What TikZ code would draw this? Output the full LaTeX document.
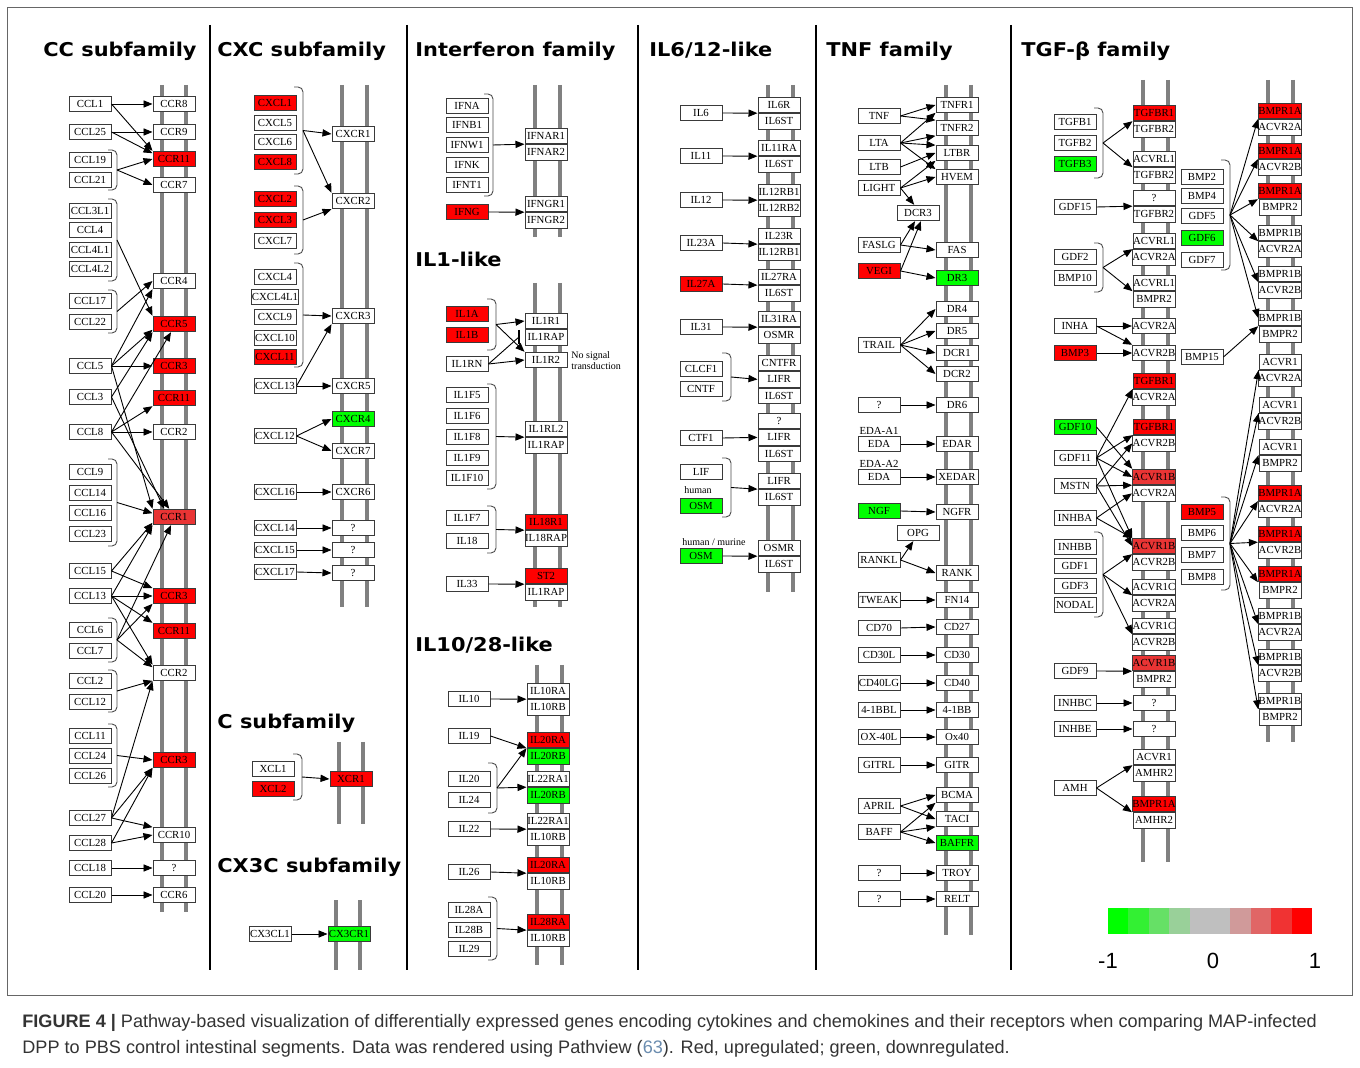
\documentclass[tikz,border=0pt]{standalone}
\usepackage{fontspec}
\setmainfont{Liberation Serif}
\newfontfamily\ttlfont{DejaVu Sans}[FakeStretch=1.1]
\newfontfamily\capfont{Liberation Sans}
\usetikzlibrary{arrows.meta,positioning}
\definecolor{upred}{HTML}{FF0000}
\definecolor{uplight}{HTML}{E93434}
\definecolor{dngreen}{HTML}{00FF00}
\definecolor{railgrey}{HTML}{808080}
\definecolor{boxline}{HTML}{3A3A3A}
\definecolor{capgrey}{HTML}{333333}
\definecolor{refblue}{HTML}{6A8CAF}
\tikzset{
  >={Triangle[length=4.5pt,width=3.6pt]},
  gene/.style={draw=boxline,line width=0.5pt,fill=white,minimum width=21pt,
               minimum height=7.7pt,inner sep=0pt,font=\fontsize{5.4}{6}\selectfont},
  rail/.style={draw=railgrey,line width=1.6pt},
  flow/.style={->,line width=0.45pt},
  brack/.style={draw=black!70,line width=0.45pt,rounded corners=2.5pt},
  family/.style={anchor=base west,inner sep=0pt,font=\ttlfont\bfseries\fontsize{9.5}{11}\selectfont},
  divider/.style={line width=0.7pt},
  tinytext/.style={inner sep=0pt,font=\fontsize{5}{5.6}\selectfont},
  caption/.style={anchor=base west,inner sep=0pt,text=capgrey,font=\capfont\fontsize{9.05}{10}\selectfont},
  scale label/.style={inner sep=0pt,font=\capfont\fontsize{11}{12}\selectfont},
}
% bracket round a group of ligands, with a named point for its arrows
\newcommand{\bracegroup}[4]{%
  \draw[brack] (#2-9,#3) -- (#2,#3) -- (#2,#4) -- (#2-9,#4);
  \coordinate (#1) at (#2,{(#3+#4)/2});}

\begin{document}
\begin{tikzpicture}[x=0.5pt,y=-0.5pt]
  \useasboundingbox (0,0) rectangle (1360,1068);
  \fill[white] (0,0) rectangle (1360,1068);
  \draw[black!60,line width=0.5pt] (7,8) rectangle (1352,995);
  \foreach \x in {210,407,638,816,1011} \draw[divider] (\x,25) -- (\x,970);

  % membranes
  \foreach \x/\a/\b in {162/85/912, 186/85/912, 342/85/607, 367/85/607,
      339/742/824, 363/742/824, 336/900/970, 360/900/970,
      535/85/237, 560/85/237, 535/283/607, 560/283/607, 537/665/965, 562/665/965,
      768/85/592, 793/85/592, 946/85/935, 971/85/935,
      1143/80/862, 1168/80/862, 1268/80/742, 1293/80/742}
    \draw[rail] (\x,\a) -- (\x,\b);

  % family titles
  \node[family] (ttlcc) at (43,57) {CC subfamily};
  \node[family] (ttlcxc) at (217,57) {CXC subfamily};
  \node[family] (ttlifn) at (415,57) {Interferon family};
  \node[family] (ttlil6) at (649,57) {IL6/12-like};
  \node[family] (ttltnf) at (826,57) {TNF family};
  \node[family] (ttltgf) at (1021,57) {TGF-β family};
  \node[family] (ttlil1) at (415,267) {IL1-like};
  \node[family] (ttlil10) at (415,652) {IL10/28-like};
  \node[family] (ttlc) at (217,729) {C subfamily};
  \node[family] (ttlcx3c) at (217,872) {CX3C subfamily};

  % ---- CC subfamily
  \foreach \n/\y/\t in {ccl1/104/CCL1, ccl25/132/CCL25, ccl19/160/CCL19, ccl21/180/CCL21,
      ccl3l1/211/CCL3L1, ccl4/230/CCL4, ccl4l1/250/CCL4L1, ccl4l2/269/CCL4L2,
      ccl17/301/CCL17, ccl22/322/CCL22, ccl5/366/CCL5, ccl3/397/CCL3, ccl8/432/CCL8,
      ccl9/472/CCL9, ccl14/493/CCL14, ccl16/513/CCL16, ccl23/534/CCL23, ccl15/571/CCL15,
      ccl13/596/CCL13, ccl6/630/CCL6, ccl7/651/CCL7, ccl2/681/CCL2, ccl12/702/CCL12,
      ccl11/736/CCL11, ccl24/756/CCL24, ccl26/776/CCL26, ccl27/818/CCL27,
      ccl28/843/CCL28, ccl18/868/CCL18, ccl20/895/CCL20}
    \node[gene] (\n) at (90,\y) {\t};
  \foreach \n/\y/\t/\c in {ccr8/104/CCR8/white, ccr9/132/CCR9/white, ccr11a/159/CCR11/upred,
      ccr7/185/CCR7/white, ccr4/281/CCR4/white, ccr5/324/CCR5/upred, ccr3a/366/CCR3/upred,
      ccr11b/398/CCR11/upred, ccr2a/432/CCR2/white, ccr1/517/CCR1/uplight,
      ccr3b/596/CCR3/upred, ccr11c/631/CCR11/upred, ccr2b/673/CCR2/white,
      ccr3c/760/CCR3/upred, ccr10/835/CCR10/white, ccrq/868/?/white, ccr6/895/CCR6/white}
    \node[gene,fill=\c] (\n) at (174,\y) {\t};
  \bracegroup{ccb1}{117}{150}{190}
  \bracegroup{ccb2}{117}{199}{281}
  \bracegroup{ccb3}{117}{290}{333}
  \bracegroup{ccb4}{117}{459}{546}
  \bracegroup{ccb5}{117}{618}{662}
  \bracegroup{ccb6}{117}{670}{712}
  \bracegroup{ccb7}{117}{724}{787}

  % ---- CXC subfamily
  \foreach \n/\y/\t/\c in {cxcl1/103/CXCL1/upred, cxcl5/123/CXCL5/white, cxcl6/142/CXCL6/white,
      cxcl8/162/CXCL8/upred, cxcl2/199/CXCL2/upred, cxcl3/220/CXCL3/upred, cxcl7/241/CXCL7/white,
      cxcl4/277/CXCL4/white, cxcl4l1/297/CXCL4L1/white, cxcl9/317/CXCL9/white,
      cxcl10/338/CXCL10/white, cxcl11/357/CXCL11/upred, cxcl13/386/CXCL13/white,
      cxcl12/436/CXCL12/white, cxcl16/492/CXCL16/white, cxcl14/528/CXCL14/white,
      cxcl15/550/CXCL15/white, cxcl17/572/CXCL17/white}
    \node[gene,fill=\c] (\n) at (275,\y) {\t};
  \foreach \n/\y/\t/\c in {cxcr1/134/CXCR1/white, cxcr2/201/CXCR2/white, cxcr3/316/CXCR3/white,
      cxcr5/386/CXCR5/white, cxcr4/419/CXCR4/dngreen, cxcr7/451/CXCR7/white,
      cxcr6/492/CXCR6/white, cxrq1/528/?/white, cxrq2/550/?/white, cxrq3/573/?/white}
    \node[gene,fill=\c] (\n) at (353,\y) {\t};
  \bracegroup{cxb1}{303}{87}{174}
  \bracegroup{cxb2}{303}{186}{254}
  \bracegroup{cxb3}{303}{263}{367}

  % ---- C and CX3C subfamilies
  \node[gene] (xcl1) at (273,769) {XCL1};
  \node[gene,fill=upred] (xcl2) at (273,789) {XCL2};
  \node[gene,fill=upred] (xcr1) at (351,779) {XCR1};
  \bracegroup{xcb}{302}{754}{800}
  \node[gene] (cx3cl1) at (270,934) {CX3CL1};
  \node[gene,fill=dngreen] (cx3cr1) at (349,934) {CX3CR1};

  % ---- Interferon family and IL1-like
  \foreach \n/\y/\t/\c in {ifna/106/IFNA/white, ifnb1/125/IFNB1/white, ifnw1/145/IFNW1/white,
      ifnk/165/IFNK/white, ifnt1/185/IFNT1/white, ifng/212/IFNG/upred,
      il1a/314/IL1A/upred, il1b/335/IL1B/upred, il1rn/364/IL1RN/white, il1f5/395/IL1F5/white,
      il1f6/416/IL1F6/white, il1f8/437/IL1F8/white, il1f9/458/IL1F9/white,
      il1f10/478/IL1F10/white, il1f7/518/IL1F7/white, il18/541/IL18/white, il33/584/IL33/white}
    \node[gene,fill=\c] (\n) at (467,\y) {\t};
  \foreach \n/\y/\ta/\ca/\tb/\cb in {ifnar/136/IFNAR1/white/IFNAR2/white,
      ifngr/204/IFNGR1/white/IFNGR2/white, il1r/321/IL1R1/white/IL1RAP/white,
      il1rl2/429/IL1RL2/white/IL1RAP/white, il18r/522/IL18R1/upred/IL18RAP/white,
      st2/576/ST2/upred/IL1RAP/white}{
    \node[gene,fill=\ca] (\n-a) at (546,\y) {\ta};
    \node[gene,fill=\cb,below=0pt of \n-a] (\n-b) {\tb};
  }
  \node[gene] (il1r2) at (546,360) {IL1R2};
  \node[tinytext,anchor=north west,align=left] (nosig) at (571,351) {No signal\\transduction};
  \bracegroup{ifb}{493}{94}{196}
  \bracegroup{ilb1}{496}{299}{350}
  \bracegroup{ilb2}{496}{384}{489}
  \bracegroup{ilb3}{496}{506}{553}
  \coordinate (il1stop) at (519,337);

  % ---- IL10/28-like
  \foreach \n/\y/\t in {il10/699/IL10, il19/736/IL19, il20/779/IL20, il24/800/IL24,
      il22/829/IL22, il26/872/IL26, il28a/910/IL28A, il28b/930/IL28B, il29/949/IL29}
    \node[gene] (\n) at (469,\y) {\t};
  \foreach \n/\y/\ta/\ca/\tb/\cb in {il10r/691/IL10RA/white/IL10RB/white,
      il20r/740/IL20RA/upred/IL20RB/dngreen, il22r/779/IL22RA1/white/IL20RB/dngreen,
      il22rb/821/IL22RA1/white/IL10RB/white, il26r/865/IL20RA/upred/IL10RB/white,
      il28r/922/IL28RA/upred/IL10RB/white}{
    \node[gene,fill=\ca] (\n-a) at (548,\y) {\ta};
    \node[gene,fill=\cb,below=0pt of \n-a] (\n-b) {\tb};
  }
  \bracegroup{i10b1}{497}{763}{813}
  \bracegroup{i10b2}{497}{897}{960}

  % ---- IL6/12-like
  \foreach \n/\y/\t/\c in {il6/113/IL6/white, il11/156/IL11/white, il12/200/IL12/white,
      il23a/243/IL23A/white, il27a/284/IL27A/upred, il31/327/IL31/white, clcf1/369/CLCF1/white,
      cntf/389/CNTF/white, ctf1/438/CTF1/white, lif/472/LIF/white, osmh/506/OSM/dngreen,
      osmm/556/OSM/dngreen}
    \node[gene,fill=\c] (\n) at (701,\y) {\t};
  \node[tinytext] (human) at (698,490) {human};
  \node[tinytext] (humur) at (714,542) {human / murine};
  \foreach \n/\y/\ta/\tb in {il6r/105/IL6R/IL6ST, il11r/148/IL11RA/IL6ST, il12r/192/IL12RB1/IL12RB2,
      il23r/236/IL23R/IL12RB1, il27r/277/IL27RA/IL6ST, il31r/319/IL31RA/OSMR,
      lifr/481/LIFR/IL6ST, osmr/548/OSMR/IL6ST}{
    \node[gene] (\n-a) at (779,\y) {\ta};
    \node[gene,below=0pt of \n-a] (\n-b) {\tb};
  }
  \foreach \n/\y/\ta in {cntfr/363/CNTFR, ctfr/421/?}{
    \node[gene] (\n-a) at (779,\y) {\ta};
    \node[gene,below=0pt of \n-a] (\n-b) {LIFR};
    \node[gene,below=0pt of \n-b] (\n-c) {IL6ST};
  }
  \bracegroup{i6b1}{731}{353}{401}
  \bracegroup{i6b2}{731}{458}{517}

  % ---- TNF family
  \foreach \n/\y/\t/\c in {tnf/116/TNF/white, lta/143/LTA/white, ltb/167/LTB/white,
      light/188/LIGHT/white, faslg/245/FASLG/white, vegi/271/VEGI/upred, trail/345/TRAIL/white,
      tnfq1/405/?/white, eda1/444/EDA/white, eda2/477/EDA/white, ngf/511/NGF/dngreen,
      rankl/560/RANKL/white, tweak/600/TWEAK/white, cd70/628/CD70/white, cd30l/655/CD30L/white,
      cd40lg/683/CD40LG/white, 41bbl/710/4-1BBL/white, ox40l/737/OX-40L/white,
      gitrl/765/GITRL/white, april/806/APRIL/white, baff/832/BAFF/white, tnfq2/873/?/white,
      tnfq3/899/?/white}
    \node[gene,fill=\c] (\n) at (879,\y) {\t};
  \node[gene] (dcr3) at (918,213) {DCR3};
  \node[gene] (opg) at (918,533) {OPG};
  \node[gene,draw=none,fill=none] (edaa1) at (879,431) {EDA-A1};
  \node[gene,draw=none,fill=none] (edaa2) at (879,464) {EDA-A2};
  \foreach \n/\y/\t/\c in {tnfr1/105/TNFR1/white, tnfr2/128/TNFR2/white, ltbr/153/LTBR/white,
      hvem/177/HVEM/white, fas/250/FAS/white, dr3/278/DR3/dngreen, dr4/309/DR4/white,
      dr5/331/DR5/white, dcr1/353/DCR1/white, dcr2/374/DCR2/white, dr6/405/DR6/white,
      edar/444/EDAR/white, xedar/477/XEDAR/white, ngfr/512/NGFR/white, rank/573/RANK/white,
      fn14/600/FN14/white, cd27/627/CD27/white, cd30/655/CD30/white, cd40/683/CD40/white,
      41bb/710/4-1BB/white, ox40/737/Ox40/white, gitr/765/GITR/white, bcma/795/BCMA/white,
      taci/819/TACI/white, baffr/843/BAFFR/dngreen, troy/873/TROY/white, relt/899/RELT/white}
    \node[gene,fill=\c] (\n) at (957,\y) {\t};

  % ---- TGF-beta family
  \foreach \n/\y/\t/\c in {tgfb1/122/TGFB1/white, tgfb2/143/TGFB2/white, tgfb3/164/TGFB3/dngreen,
      gdf15/207/GDF15/white, gdf2/257/GDF2/white, bmp10/278/BMP10/white, inha/326/INHA/white,
      bmp3/353/BMP3/upred, gdf10/427/GDF10/dngreen, gdf11/458/GDF11/white, mstn/486/MSTN/white,
      inhba/518/INHBA/white, inhbb/547/INHBB/white, gdf1/566/GDF1/white, gdf3/586/GDF3/white,
      nodal/605/NODAL/white, gdf9/671/GDF9/white, inhbc/703/INHBC/white, inhbe/729/INHBE/white,
      amh/788/AMH/white}
    \node[gene,fill=\c] (\n) at (1075,\y) {\t};
  \foreach \n/\y/\ta/\ca/\tb in {tr1/113/TGFBR1/upred/TGFBR2, tr2/159/ACVRL1/white/TGFBR2,
      tr3/198/?/white/TGFBR2, tr4/241/ACVRL1/white/ACVR2A, tr5/283/ACVRL1/white/BMPR2,
      tr6/381/TGFBR1/upred/ACVR2A, tr7/427/TGFBR1/upred/ACVR2B, tr8/477/ACVR1B/uplight/ACVR2A,
      tr9/546/ACVR1B/uplight/ACVR2B, tr10/587/ACVR1C/white/ACVR2A, tr11/626/ACVR1C/white/ACVR2B,
      tr12/663/ACVR1B/uplight/BMPR2, tr13/757/ACVR1/white/AMHR2, tr14/804/BMPR1A/upred/AMHR2}{
    \node[gene,fill=\ca] (\n-a) at (1154,\y) {\ta};
    \node[gene,below=0pt of \n-a] (\n-b) {\tb};
  }
  \foreach \n/\y/\t in {acvr2a/326/ACVR2A, acvr2b/353/ACVR2B, trq1/703/?, trq2/729/?}
    \node[gene] (\n) at (1154,\y) {\t};
  \foreach \n/\y/\t/\c in {bmp2/177/BMP2/white, bmp4/196/BMP4/white, gdf5/216/GDF5/white,
      gdf6/238/GDF6/dngreen, gdf7/260/GDF7/white, bmp15/357/BMP15/white, bmp5/512/BMP5/upred,
      bmp6/533/BMP6/white, bmp7/555/BMP7/white, bmp8/577/BMP8/white}
    \node[gene,fill=\c] (\n) at (1202,\y) {\t};
  \foreach \n/\y/\ta/\ca/\tb in {rr1/111/BMPR1A/upred/ACVR2A, rr2/151/BMPR1A/upred/ACVR2B,
      rr3/191/BMPR1A/upred/BMPR2, rr4/233/BMPR1B/white/ACVR2A, rr5/274/BMPR1B/white/ACVR2B,
      rr6/318/BMPR1B/white/BMPR2, rr7/362/ACVR1/white/ACVR2A, rr8/405/ACVR1/white/ACVR2B,
      rr9/447/ACVR1/white/BMPR2, rr10/493/BMPR1A/upred/ACVR2A, rr11/534/BMPR1A/upred/ACVR2B,
      rr12/574/BMPR1A/upred/BMPR2, rr13/616/BMPR1B/white/ACVR2A, rr14/657/BMPR1B/white/ACVR2B,
      rr15/701/BMPR1B/white/BMPR2}{
    \node[gene,fill=\ca] (\n-a) at (1280,\y) {\ta};
    \node[gene,below=0pt of \n-a] (\n-b) {\tb};
  }
  \bracegroup{tgb1}{1103}{108}{178}
  \bracegroup{tgb2}{1103}{243}{292}
  \bracegroup{tgb3}{1103}{532}{617}
  \bracegroup{tgb4}{1230}{160}{270}
  \bracegroup{tgb5}{1230}{497}{590}

  % ---- interactions
  \foreach \a/\b in {ccl1.east/ccr8.west, ccl1.east/ccr11a.north west, ccl25.east/ccr9.west,
      ccl25.east/ccr11a.165, ccb1/ccr11a.west, ccb1/ccr7.west, ccb2/ccr5.north west,
      ccb3/ccr4.west, ccl5.east/ccr4.south west, ccl5.east/ccr5.195, ccl5.east/ccr3a.west,
      ccl5.east/ccr1.north west, ccl3.east/ccr5.south west, ccl3.east/ccr1.140,
      ccl8.east/ccr5.250, ccl8.east/ccr11b.south west, ccl8.east/ccr2a.west, ccl8.east/ccr1.120,
      ccb4/ccr1.170, ccl15.east/ccr1.195, ccl13.east/ccr1.south west, ccb5/ccr1.250,
      ccl15.east/ccr3b.160, ccl13.east/ccr3b.west, ccb5/ccr3b.200, ccl13.east/ccr11c.north west,
      ccl13.east/ccr2b.north west, ccb5/ccr2b.165, ccb6/ccr2b.200, ccl27.east/ccr2b.south west,
      ccb7/ccr3c.west, ccl27.east/ccr3c.200, ccl28.east/ccr3c.south west, ccl27.east/ccr10.160,
      ccl28.east/ccr10.west, ccl18.east/ccrq.west, ccl20.east/ccr6.west,
      cxb1/cxcr1.west, cxb1/cxcr2.north west, cxb2/cxcr2.south west, cxb3/cxcr3.west,
      cxcl13.east/cxcr3.south west, cxcl13.east/cxcr5.west, cxcl12.east/cxcr4.west,
      cxcl12.east/cxcr7.west, cxcl16.east/cxcr6.west, cxcl14.east/cxrq1.west,
      cxcl15.east/cxrq2.west, cxcl17.east/cxrq3.west, xcb/xcr1.west, cx3cl1.east/cx3cr1.west,
      ifb/ifnar-a.south west, ifng.east/ifngr-a.south west, ilb1/il1r-a.west,
      ilb1/il1r2.north west, il1rn.east/il1r2.west, ilb2/il1rl2-a.south west,
      ilb3/il18r-a.south west, il33.east/st2-a.south west,
      il10.east/il10r-a.south west, il19.east/il20r-a.south west, i10b1/il20r-a.south west,
      i10b1/il22r-a.south west, il22.east/il22rb-a.south west, il26.east/il26r-a.south west,
      i10b2/il28r-a.south west,
      il6.east/il6r-a.south west, il11.east/il11r-a.south west, il12.east/il12r-a.south west,
      il23a.east/il23r-a.south west, il27a.east/il27r-a.south west, il31.east/il31r-a.south west,
      i6b1/cntfr-b.west, ctf1.east/ctfr-b.west, i6b2/lifr-a.south west,
      osmm.east/osmr-a.south west}
    \draw[flow] (\a) -- (\b);
  \draw[line width=0.45pt] (il1rn.east) -- (il1stop);
  \draw[line width=0.6pt] (il1stop) ++(0,-7) -- ++(0,14);

  \foreach \a/\b in {tnf.east/tnfr1.west, tnf.east/tnfr2.160, lta.east/tnfr1.200,
      lta.east/tnfr2.200, lta.east/ltbr.160, lta.east/hvem.160, ltb.east/ltbr.west,
      light.east/ltbr.200, light.east/hvem.west, light.east/dcr3.115, faslg.east/dcr3.250,
      faslg.east/fas.west, vegi.east/dcr3.290, vegi.east/dr3.west, trail.east/dr4.west,
      trail.east/dr5.west, trail.east/dcr1.west, trail.east/dcr2.west, tnfq1.east/dr6.west,
      eda1.east/edar.west, eda2.east/xedar.west, ngf.east/ngfr.west, rankl.east/opg.240,
      rankl.east/rank.west, tweak.east/fn14.west, cd70.east/cd27.west, cd30l.east/cd30.west,
      cd40lg.east/cd40.west, 41bbl.east/41bb.west, ox40l.east/ox40.west, gitrl.east/gitr.west,
      april.east/bcma.west, april.east/taci.west, baff.east/bcma.200, baff.east/taci.200,
      baff.east/baffr.west, tnfq2.east/troy.west, tnfq3.east/relt.west}
    \draw[flow] (\a) -- (\b);

  \foreach \a/\b in {tgb1/tr1-a.south west, tgb1/tr2-a.south west, gdf15.east/tr3-a.south west,
      tgb2/tr4-a.south west, tgb2/tr5-a.south west, inha.east/acvr2a.west,
      inha.east/acvr2b.north west, bmp3.east/acvr2b.west, gdf10.east/tr8-a.north west,
      gdf11.east/tr6-a.south west, gdf11.east/tr7-a.south west, gdf11.east/tr8-a.west,
      gdf11.east/tr9-a.north west, mstn.east/tr7-b.west, mstn.east/tr8-a.south west,
      mstn.east/tr9-a.west, inhba.east/tr8-b.west, inhba.east/tr9-a.160,
      tgb3/tr9-a.south west, tgb3/tr10-a.south west, tgb3/tr11-a.south west,
      gdf9.east/tr12-a.south west, inhbc.east/trq1.west, inhbe.east/trq2.west,
      amh.east/tr13-a.south west, amh.east/tr14-a.south west, bmp15.east/rr6-a.south west,
      tgb4/rr1-a.south west, tgb4/rr2-a.south west, tgb4/rr3-a.south west,
      tgb4/rr4-a.south west, tgb4/rr5-a.south west, tgb4/rr6-a.west,
      tgb5/rr7-a.south west, tgb5/rr8-a.south west, tgb5/rr9-a.south west,
      tgb5/rr10-a.south west, tgb5/rr11-a.south west, tgb5/rr12-a.south west,
      tgb5/rr13-a.south west, tgb5/rr14-a.south west, tgb5/rr15-a.south west}
    \draw[flow] (\a) -- (\b);

  % colour key
  \foreach \c [count=\i from 0] in {00FF00,33F033,66E066,99D099,BFBFBF,BFBFBF,D09A9A,E06666,F03333,FF0000}{
    \definecolor{keyfill}{HTML}{\c}
    \fill[keyfill] (1108+\i*20.4,908) rectangle ++(20.4,26);
  }
  \node[scale label] (keymin) at (1108,961) {-1};
  \node[scale label] (keymid) at (1213,961) {0};
  \node[scale label] (keymax) at (1315,961) {1};

  % caption
  \node[caption] (capa) at (22,1027) {\textbf{FIGURE 4 |} Pathway-based visualization of differentially expressed genes encoding cytokines and chemokines and their receptors when comparing MAP-infected};
  \node[caption] (capb) at (22,1053) {DPP to PBS control intestinal segments. Data was rendered using Pathview (\textcolor{refblue}{63}). Red, upregulated; green, downregulated.};
\end{tikzpicture}
\end{document}
